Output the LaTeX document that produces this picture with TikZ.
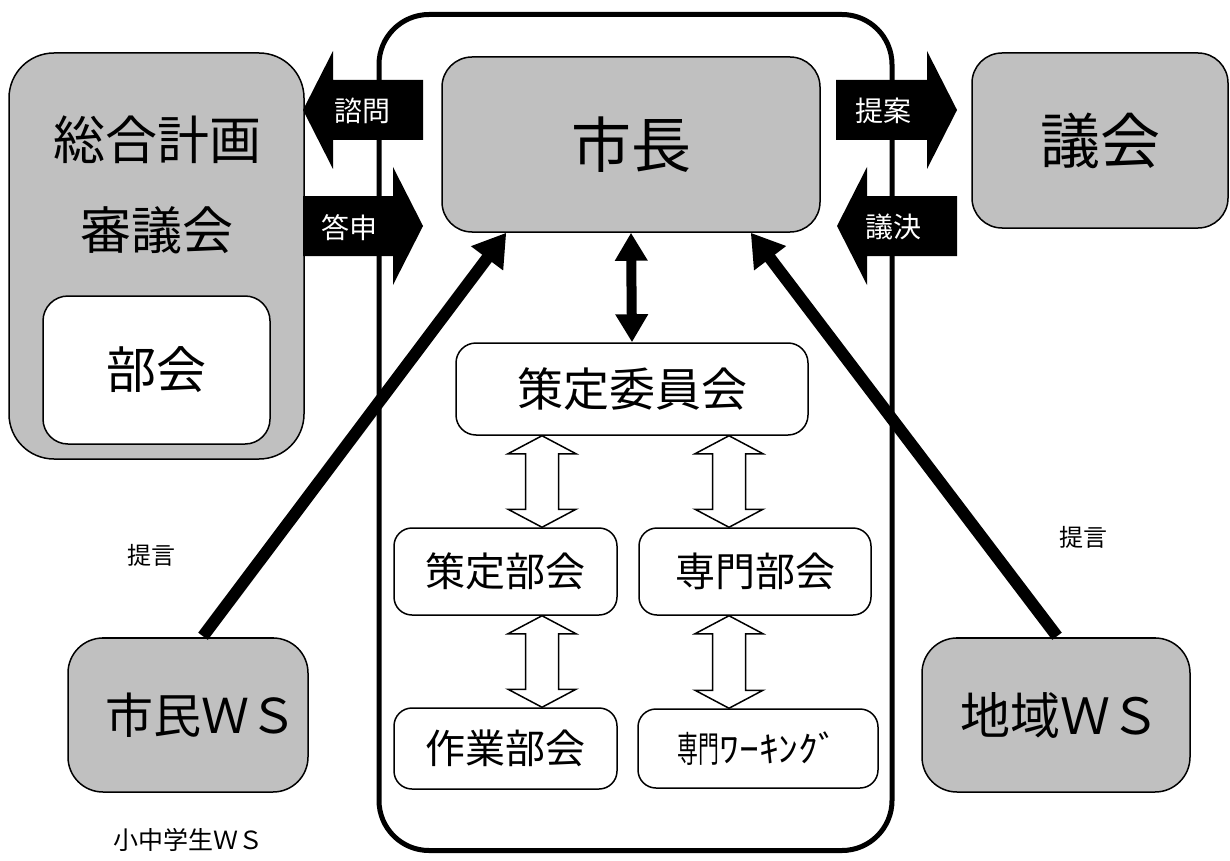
\documentclass[tikz,border=0pt]{standalone}
\usepackage{fontspec}
\usepackage{graphicx}
\setmainfont{Noto Sans CJK JP}
\usetikzlibrary{calc,arrows.meta}
\definecolor{boxgray}{RGB}{192,192,192}
\newcommand\fs[1]{\fontsize{#1}{#1}\selectfont}
\newcommand\blockarrow[2]{%
  \path ($(#1)!30pt!(#2)$) coordinate (bah);
  \fill[black] (#1) -- ($(bah)+(0,-59)$) -- ($(bah)+(0,-30)$) -- ($(#2)+(0,-30)$)
     -- ($(#2)+(0,30)$) -- ($(bah)+(0,30)$) -- ($(bah)+(0,59)$) -- cycle;}
\newcommand\hollowarrow[2]{%
  \draw[line width=1.5pt, fill=white, line join=miter] let \p1=(#1), \p2=(#2) in
  (\x1,\y1) -- (\x1+34pt,\y1-18pt) -- (\x1+16.5pt,\y1-18pt) -- (\x1+16.5pt,\y2+18pt)
  -- (\x1+34pt,\y2+18pt) -- (\x1,\y2) -- (\x1-34pt,\y2+18pt) -- (\x1-16.5pt,\y2+18pt)
  -- (\x1-16.5pt,\y1-18pt) -- (\x1-34pt,\y1-18pt) -- cycle;}
\begin{document}
\begin{tikzpicture}[x=1pt,y=-1pt,
  graybox/.style={draw, line width=1.5pt, fill=boxgray, rounded corners=#1, inner sep=0pt},
  whitebox/.style={draw, line width=1.5pt, fill=white, rounded corners=#1, inner sep=0pt},
  lbl/.style={inner sep=0pt},
  wlbl/.style={inner sep=0pt, text=white, font=\fs{28}},
  bigarrow/.style={line width=12pt, -{Triangle[length=32pt,width=38pt]}},
  duoarrow/.style={line width=10pt, {Triangle[length=28pt,width=31pt]}-{Triangle[length=28pt,width=31pt]}}]
\useasboundingbox (0,0) rectangle (1230,861);
\fill[white] (0,0) rectangle (1230,861);

% outer frame
\node[draw, line width=5pt, rounded corners=50pt, minimum width=513pt, minimum height=836pt, inner sep=0pt] (frame) at (635.5,432.5) {};

% left council
\node[graybox=45pt, minimum width=295pt, minimum height=406pt] (council) at (156.5,256) {};
\node[lbl, font=\fs{52}] (council1) at (157,140) {総合計画};
\node[lbl, font=\fs{51}] (council2) at (157,230) {審議会};
\node[whitebox=25pt, minimum width=227pt, minimum height=148pt, font=\fs{50}] (bukai) at (156.5,370) {部会};

% mayor and assembly
\node[graybox=30pt, minimum width=378pt, minimum height=175pt, font=\fs{60}] (mayor) at (631,144.5) {市長};
\node[graybox=30pt, minimum width=256pt, minimum height=175pt, font=\fs{60}] (assembly) at (1100,140.5) {議会};

% committee etc.
\node[whitebox=20pt, minimum width=352pt, minimum height=92pt, font=\fs{46}] (committee) at (632,389) {策定委員会};
\node[whitebox=18pt, minimum width=223pt, minimum height=87pt, font=\fs{40}] (sbukai) at (505.5,571.5) {策定部会};
\node[whitebox=18pt, minimum width=232pt, minimum height=87pt, font=\fs{40}] (senmon) at (755,571.5) {専門部会};
\node[whitebox=18pt, minimum width=223pt, minimum height=81pt, font=\fs{40}] (sagyo) at (505.5,748.5) {作業部会};
\node[whitebox=18pt, minimum width=240pt, minimum height=79pt, font=\fs{36}] (wg) at (758,748.5) {\scalebox{0.58}[1]{専門}\scalebox{1.1}[1]{ﾜｰｷﾝｸﾞ}};

% block arrows
\coordinate (shimonTip) at (303,110); \coordinate (shimonTail) at (423,110);
\coordinate (toshinTip) at (423,226); \coordinate (toshinTail) at (303,226);
\coordinate (teianTip) at (957,110); \coordinate (teianTail) at (836,110);
\coordinate (giketsuTip) at (837,226); \coordinate (giketsuTail) at (957,226);
\blockarrow{shimonTip}{shimonTail}
\blockarrow{toshinTip}{toshinTail}
\blockarrow{teianTip}{teianTail}
\blockarrow{giketsuTip}{giketsuTail}
\node[wlbl] (shimon) at (362,111) {諮問};
\node[wlbl] (toshin) at (349,228) {答申};
\node[wlbl] (teian) at (883,111) {提案};
\node[wlbl] (giketsu) at (893,227) {議決};

% mayor <-> committee
\draw[duoarrow] (mayor.south) -- (committee.north);

% hollow arrows
\hollowarrow{$(committee.south)+(-90,0)$}{$(sbukai.north)+(36.5,0)$}
\hollowarrow{$(committee.south)+(97,0)$}{$(senmon.north)+(-26,0)$}
\hollowarrow{$(sbukai.south)+(36.5,0)$}{$(sagyo.north)+(36.5,0)$}
\hollowarrow{$(senmon.south)+(-26,0)$}{$(wg.north)+(-29,0)$}

% workshops
\node[graybox=35pt, minimum width=240pt, minimum height=154pt] (citizen) at (188,715) {};
\node[lbl, font=\fs{48}] (citizenT) at (201,715) {市民ＷＳ};
\node[graybox=35pt, minimum width=268pt, minimum height=154pt] (region) at (1056,715) {};
\node[lbl, font=\fs{50}] (regionT) at (1060,715) {地域ＷＳ};

% diagonal arrows
\draw[bigarrow] ($(citizen.north)+(15,-1)$) -- ($(mayor.south west)+(65,0)$);
\draw[bigarrow] ($(region.north)+(1,-1)$) -- ($(mayor.south east)+(-70,0)$);
\draw[line width=1.5pt] (citizen.north west) ++(35,0) -- ($(citizen.north east)+(-35,0)$);
\draw[line width=1.5pt] (region.north west) ++(35,0) -- ($(region.north east)+(-35,0)$);

% free labels
\node[lbl, font=\fs{24}] (teigen1) at (151,555) {提言};
\node[lbl, font=\fs{24}] (teigen2) at (1083,537) {提言};
\node[lbl, font=\fs{25}] (shochu) at (188,840) {小中学生ＷＳ};
\end{tikzpicture}
\end{document}
